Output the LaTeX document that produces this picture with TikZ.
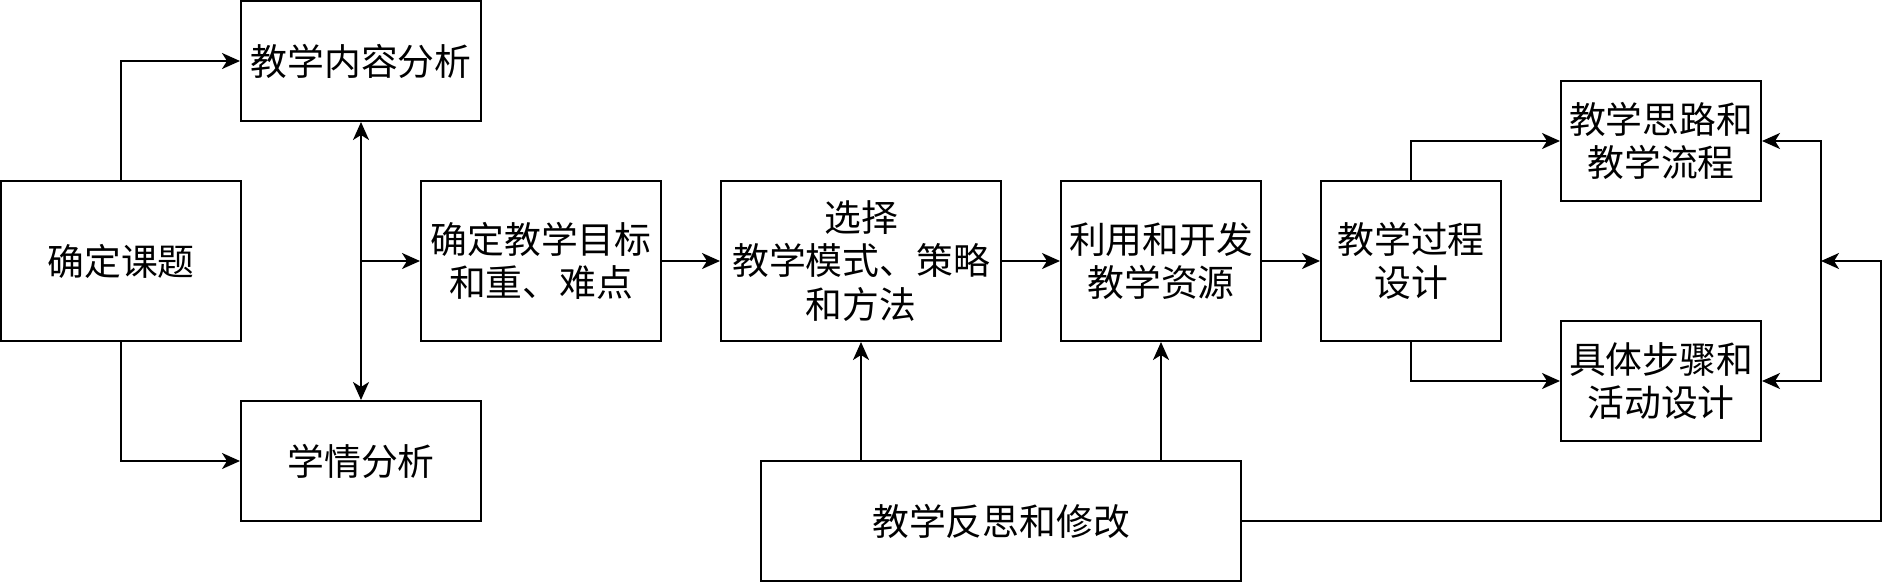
\documentclass[tikz,border=0pt]{standalone}
\usepackage{fontspec}
\setmainfont{Noto Sans CJK SC}
\usetikzlibrary{arrows.meta}
\begin{document}
\begin{tikzpicture}[x=0.5pt,y=-0.5pt,
  box/.style={draw,line width=1pt,inner sep=0pt,align=center,font=\fontsize{18.4}{21.8}\selectfont},
  arr/.style={line width=1pt,-{Stealth[length=9pt,width=8pt,inset=2.5pt]}},
  arrb/.style={line width=1pt,{Stealth[length=9pt,width=8pt,inset=2.5pt]}-{Stealth[length=9pt,width=8pt,inset=2.5pt]}}]
\useasboundingbox (0,0) rectangle (1900,584);
\node[box,minimum width=120pt,minimum height=80pt] (A) at (121,261) {确定课题};
\node[box,minimum width=120pt,minimum height=60pt] (B) at (361,61) {教学内容分析};
\node[box,minimum width=120pt,minimum height=60pt] (C) at (361,461) {学情分析};
\node[box,minimum width=120pt,minimum height=80pt] (D) at (541,261) {确定教学目标\\和重、难点};
\node[box,minimum width=140pt,minimum height=80pt] (E) at (861,261) {选择\\教学模式、策略\\和方法};
\node[box,minimum width=100pt,minimum height=80pt] (F) at (1161,261) {利用和开发\\教学资源};
\node[box,minimum width=90pt,minimum height=80pt] (G) at (1411,261) {教学过程\\设计};
\node[box,minimum width=100pt,minimum height=60pt] (H) at (1661,141) {教学思路和\\教学流程};
\node[box,minimum width=100pt,minimum height=60pt] (I) at (1661,381) {具体步骤和\\活动设计};
\node[box,minimum width=240pt,minimum height=60pt] (J) at (1001,521) {教学反思和修改};
\coordinate (X) at (1821,261);
\coordinate (P) at (1881,261);
\draw[arr] (A.north) |- (B.west);
\draw[arr] (A.south) |- (C.west);
\draw[arrb] (B.south) -- (C.north);
\draw[arr] (B.south |- D.west) -- (D.west);
\draw[arr] (D.east) -- (E.west);
\draw[arr] (E.east) -- (F.west);
\draw[arr] (F.east) -- (G.west);
\draw[arr] (J.north -| E.south) -- (E.south);
\draw[arr] (J.north -| F.south) -- (F.south);
\draw[arr] (G.north) |- (H.west);
\draw[arr] (G.south) |- (I.west);
\draw[arrb] (H.east) -| (X) |- (I.east);
\draw[arr] (J.east) -| (P) -- (X);
\end{tikzpicture}
\end{document}
